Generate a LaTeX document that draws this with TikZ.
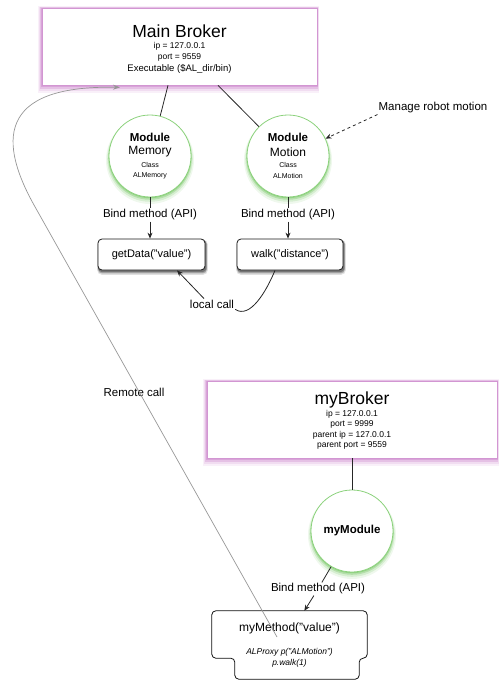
\documentclass[tikz,border=0pt]{standalone}
\usepackage{fontspec}
\setmainfont{Liberation Sans}
\usetikzlibrary{arrows.meta,backgrounds}
\definecolor{brokerpink}{RGB}{195,110,195}
\definecolor{brokeredge}{RGB}{210,150,210}
\definecolor{modgreen}{RGB}{100,190,80}
\definecolor{modedge}{RGB}{140,210,125}
\definecolor{remotegray}{RGB}{150,150,150}
\newcommand{\myfs}[1]{\fontsize{#1}{#1}\selectfont}
% glow under a rectangular node: #1 node, #2 colour
\newcommand{\boxglow}[2]{%
  \fill[#2, opacity=.10] ([xshift=-3.5pt,yshift=-7.5pt]#1.south west) rectangle ([xshift=2pt,yshift=1.5pt]#1.north east);
  \fill[#2, opacity=.15] ([xshift=-2.5pt,yshift=-5.5pt]#1.south west) rectangle ([xshift=1.2pt,yshift=1pt]#1.north east);
  \fill[#2, opacity=.25] ([xshift=-1.5pt,yshift=-3.5pt]#1.south west) rectangle ([xshift=0.6pt,yshift=0.5pt]#1.north east);
  \fill[#2, opacity=.35] ([xshift=-0.8pt,yshift=-1.8pt]#1.south west) rectangle ([xshift=0.2pt]#1.north east);}
\newcommand{\circglow}[2]{%
  \fill[#2, opacity=.10] ([yshift=-4pt]#1.center) circle (44pt);
  \fill[#2, opacity=.18] ([yshift=-3pt]#1.center) circle (42.8pt);
  \fill[#2, opacity=.30] ([yshift=-2pt]#1.center) circle (41.8pt);
  \fill[#2, opacity=.40] ([yshift=-1pt]#1.center) circle (41.2pt);}
\newcommand{\rectshadow}[1]{%
  \fill[black, opacity=.12, rounded corners=5pt] ([xshift=-0.5pt,yshift=-4.5pt]#1.south west) rectangle ([xshift=2.5pt,yshift=-1pt]#1.north east);
  \fill[black, opacity=.25, rounded corners=4pt] ([xshift=0.3pt,yshift=-3pt]#1.south west) rectangle ([xshift=1.5pt,yshift=-1.5pt]#1.north east);
  \fill[black, opacity=.3, rounded corners=4pt] ([xshift=0.5pt,yshift=-1.8pt]#1.south west) rectangle ([xshift=1pt,yshift=-1.5pt]#1.north east);}
\tikzset{
  brokerbox/.style={draw=brokeredge, line width=0.7pt, fill=white, inner sep=0pt},
  modcirc/.style={circle, draw=modedge, line width=0.8pt, fill=white, minimum size=82pt, inner sep=0pt},
  methbox/.style={draw=black!90, line width=0.8pt, rounded corners=4pt, fill=white},
  lbl/.style={font=\myfs{11.5}, inner sep=1pt},
  small/.style={font=\myfs{8.5}, inner sep=0pt},
  tiny/.style={font=\myfs{7}, inner sep=0pt},
  conn/.style={draw=black!85, line width=0.8pt},
  arr/.style={conn, -{Stealth[length=6pt,width=5pt]}},
  remote/.style={draw=remotegray, line width=0.7pt, -{Stealth[length=7pt,width=5pt]}},
}
\begin{document}
\begin{tikzpicture}[x=1pt,y=-1pt]
\useasboundingbox (0,0) rectangle (499,687);

% Main Broker
\node[brokerbox, minimum width=275pt, minimum height=77pt] (mb) at (179.5,46.5) {};
\node[inner sep=0pt, font=\myfs{17.5}] (mbt) at (179.5,31) {Main Broker};
\node[small] (mbip) at (179.5,46.5) {ip = 127.0.0.1};
\node[small] (mbport) at (179.5,57.5) {port = 9559};
\node[inner sep=0pt, font=\myfs{9.5}] (mbexe) at (179.5,69) {Executable (\$AL\_dir/bin)};

% modules
\node[modcirc] (mem) at (150,156) {};
\node[inner sep=0pt, font=\myfs{11.5}\bfseries] (memA) at (150,137) {Module};
\node[inner sep=0pt, font=\myfs{12}] (memB) at (150,152) {Memory};
\node[tiny] (memC) at (150,164.5) {Class};
\node[tiny] (memD) at (150,175.5) {ALMemory};

\node[modcirc] (mot) at (288,156) {};
\node[inner sep=0pt, font=\myfs{11.5}\bfseries] (motA) at (288,137) {Module};
\node[inner sep=0pt, font=\myfs{12}] (motB) at (288,152) {Motion};
\node[tiny] (motC) at (288,164.5) {Class};
\node[tiny] (motD) at (288,175.5) {ALMotion};

\draw[conn] ([xshift=-11.5pt]mb.south) -- (mem);
\draw[conn] ([xshift=38.5pt]mb.south) -- (mot);

\node[lbl] (mrm) at (433,108) {Manage robot motion};
\draw[conn, dashed, -{Stealth[length=6pt,width=5pt]}] (mrm.south west) -- (mot);

% bind labels and methods
\node[lbl] (bindA) at (150,215) {Bind method (API)};
\node[lbl] (bindB) at (288,215) {Bind method (API)};
\draw[conn] (mem.south) -- (bindA.north);
\draw[conn] (mot.south) -- (bindB.north);

\node[methbox, minimum width=107pt, minimum height=31pt, inner sep=0pt, font=\myfs{11}] (gd) at (151.5,254.5) {getData("value")};
\node[methbox, minimum width=106pt, minimum height=31pt, inner sep=0pt, font=\myfs{11}] (wk) at (290,254.5) {walk("distance")};
\draw[arr] (bindA.south) -- (bindA.south |- gd.north);
\draw[arr] (bindB.south) -- (bindB.south |- wk.north);

\node[lbl] (lc) at (212,304) {local call};
\draw[arr] ([xshift=-8pt]lc.north) -- ([xshift=25.5pt]gd.south);
\draw[conn] (lc.south east) .. controls (250,319) and (266,292) .. ([xshift=-15pt]wk.south);

% myBroker
\node[brokerbox, minimum width=290pt, minimum height=77pt] (myb) at (352,419.5) {};
\node[inner sep=0pt, font=\myfs{17.5}] (mybt) at (352,400) {myBroker};
\node[small] (mybip) at (352,414) {ip = 127.0.0.1};
\node[small] (mybport) at (352,424.5) {port = 9999};
\node[small] (mybpip) at (352,435) {parent ip = 127.0.0.1};
\node[small] (mybpport) at (352,445) {parent port = 9559};

\node[modcirc] (mym) at (352,531) {};
\node[inner sep=0pt, font=\myfs{11.5}\bfseries] (mymt) at (352,531) {myModule};
\draw[conn] (myb.south) -- (mym.north);

\node[lbl] (bindC) at (318,589) {Bind method (API)};
\draw[conn] (mym) -- (bindC);

% myMethod box
\node[inner sep=0pt, minimum width=155pt, minimum height=47pt] (mm) at (289.5,634.5) {};
\draw[methbox] (mm.north west) -- (mm.north east) -- (mm.south east) -- ++(-8,0) -- ++(0,21) -- ([xshift=23pt,yshift=-21pt]mm.south west) -- ([xshift=23pt]mm.south west) -- (mm.south west) -- cycle;
\node[inner sep=0pt, font=\myfs{12}] (mmt) at (289.5,628) {myMethod("value")};
\node[inner sep=0pt, font=\myfs{8.5}\itshape] (mmp) at (289.5,652.5) {ALProxy p("ALMotion")};
\node[inner sep=0pt, font=\myfs{8.5}\itshape] (mmw) at (289.5,663) {p.walk(1)};
\draw[arr] (bindC) -- (mm);

% remote call
\node[lbl] (rc) at (134,392) {Remote call};
\draw[remote] ([xshift=-12.5pt,yshift=-2.5pt]mm.center) -- (34,205) .. controls (0,144) and (-5,85) .. ([xshift=-59.5pt,yshift=-2pt]mb.south);

% glows and shadows
\begin{scope}[on background layer]
  \boxglow{mb}{brokerpink}
  \boxglow{myb}{brokerpink}
  \circglow{mem}{modgreen}
  \circglow{mot}{modgreen}
  \circglow{mym}{modgreen}
  \rectshadow{gd}
  \rectshadow{wk}
  \foreach \op/\dx/\dy in {.12/1.5/-4.5, .25/1/-3, .3/0.6/-1.8} {
    \fill[black, opacity=\op, rounded corners=4pt, shift={(\dx pt,\dy pt)}]
      (mm.north west) -- (mm.north east) -- (mm.south east) -- ++(-8,0) -- ++(0,21)
      -- ([xshift=23pt,yshift=-21pt]mm.south west) -- ([xshift=23pt]mm.south west) -- (mm.south west) -- cycle;
  }
\end{scope}
\end{tikzpicture}
\end{document}
